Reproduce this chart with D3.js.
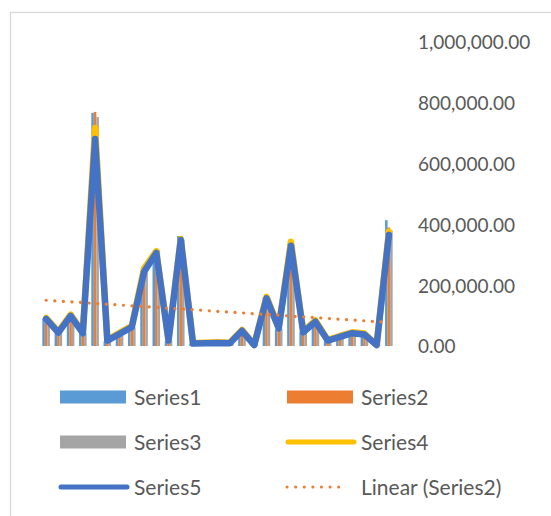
<!DOCTYPE html>
<html>
<head>
<meta charset="utf-8">
<script src="https://cdn.jsdelivr.net/npm/d3@7"></script>
<style>
  html, body { margin: 0; padding: 0; background: #fff; }
  svg { display: block; }
  text { font-family: Lato, "Open Sans", sans-serif; fill: #595959; }
</style>
</head>
<body>
<svg id="chart" width="551" height="516"></svg>
<script>
// ---- data (values in units) ----
const categories = d3.range(1, 30);
const series1 = [90000, 45000, 98000, 43000, 767000, 15000, 38000, 60000, 248000, 312000, 15000, 362000, 8000, 8000, 9000, 8000, 48000, 2000, 160000, 55000, 336000, 46000, 78000, 16000, 28000, 40000, 36000, 2000, 414000];
const series2 = [84000, 42000, 95000, 40000, 770000, 14000, 36000, 58000, 242000, 305000, 14000, 355000, 7000, 8000, 8000, 8000, 50000, 2000, 155000, 56000, 330000, 44000, 76000, 15000, 29000, 39000, 35000, 2000, 390000];
const series3 = [86000, 44000, 96000, 42000, 753000, 16000, 39000, 61000, 250000, 316000, 16000, 350000, 9000, 9000, 10000, 9000, 52000, 3000, 158000, 57000, 332000, 45000, 79000, 17000, 30000, 41000, 37000, 3000, 380000];
const series4 = [92000, 47000, 103000, 45000, 717000, 20000, 43000, 66000, 255000, 312000, 20000, 352000, 10000, 11000, 12000, 11000, 53000, 4000, 162000, 62000, 343000, 48000, 84000, 20000, 33000, 45000, 41000, 4000, 376000];
const series5 = [89000, 44000, 99000, 42000, 681000, 18000, 40000, 62000, 244000, 306000, 18000, 349000, 8000, 9000, 10000, 9000, 50000, 3000, 157000, 58000, 330000, 45000, 80000, 18000, 30000, 42000, 38000, 3000, 365000];
const yTicks = [0, 200000, 400000, 600000, 800000, 1000000];
const legendItems = [
  {name: "Series1", type: "bar", color: "#5B9BD5"},
  {name: "Series2", type: "bar", color: "#ED7D31"},
  {name: "Series3", type: "bar", color: "#A5A5A5"},
  {name: "Series4", type: "line", color: "#FFC000"},
  {name: "Series5", type: "line", color: "#4472C4"},
  {name: "Linear (Series2)", type: "dot", color: "#ED7D31"}
];

const svg = d3.select("#chart");
// chart border (extends beyond view on right/bottom)
svg.append("rect").attr("x", 10.5).attr("y", 12.5).attr("width", 600).attr("height", 600)
  .attr("fill", "#fff").attr("stroke", "#d9d9d9").attr("stroke-width", 1.3);

const plot = {left: 40, right: 395, top: 42, bottom: 346};
const x = d3.scaleBand().domain(categories).range([plot.left, plot.right]).paddingInner(0.38).paddingOuter(0.19);
const barKeys = ["s1", "s2", "s3"];
const xSub = d3.scaleBand().domain(barKeys).range([0, x.bandwidth()]);
const y = d3.scaleLinear().domain([0, 1000000]).range([plot.bottom, plot.top]);
const cx = c => x(c) + x.bandwidth() / 2;

// right axis labels
const axis = d3.axisRight(y).tickValues(yTicks).tickSize(0).tickPadding(0)
  .tickFormat(d3.format(",.2f"));
const ag = svg.append("g").attr("transform", `translate(418,0)`).call(axis);
ag.select(".domain").remove();
ag.selectAll("text").style("font-size", "19px").style("fill", "#595959")
  .style("font-family", "Lato, 'Open Sans', sans-serif").attr("dy", "0.36em");

// bars
const barSeries = [
  {key: "s1", data: series1, color: "#5B9BD5"},
  {key: "s2", data: series2, color: "#ED7D31"},
  {key: "s3", data: series3, color: "#A5A5A5"}
];
barSeries.forEach(s => {
  svg.append("g").selectAll("rect").data(categories).join("rect")
    .attr("x", (c) => x(c) + xSub(s.key))
    .attr("width", xSub.bandwidth())
    .attr("y", (c, i) => y(s.data[i]))
    .attr("height", (c, i) => y(0) - y(s.data[i]))
    .attr("fill", s.color);
});

// lines
const lineGen = d3.line().x((d, i) => cx(categories[i])).y(d => y(d));
svg.append("path").datum(series4).attr("d", lineGen).attr("fill", "none")
  .attr("stroke", "#FFC000").attr("stroke-width", 6.5).attr("stroke-linejoin", "round").attr("stroke-linecap", "round");
svg.append("path").datum(series5).attr("d", lineGen).attr("fill", "none")
  .attr("stroke", "#4472C4").attr("stroke-width", 6.5).attr("stroke-linejoin", "round").attr("stroke-linecap", "round");

// linear trendline of series2 (least squares)
const n = series2.length;
const xs = d3.range(n);
const mx = d3.mean(xs), my = d3.mean(series2);
const slope = d3.sum(xs, i => (i - mx) * (series2[i] - my)) / d3.sum(xs, i => (i - mx) ** 2);
const intercept = my - slope * mx;
svg.append("line")
  .attr("x1", cx(categories[0])).attr("y1", y(intercept))
  .attr("x2", cx(categories[n - 1])).attr("y2", y(intercept + slope * (n - 1)))
  .attr("stroke", "#ED7D31").attr("stroke-width", 3.2).attr("stroke-linecap", "round")
  .attr("stroke-dasharray", "0.1 8.5");

// legend
const cols = [60, 287];
const rows = [397, 442, 487];
const lg = svg.append("g");
legendItems.forEach((it, i) => {
  const gx = cols[i % 2], gy = rows[Math.floor(i / 2)];
  const g = lg.append("g").attr("transform", `translate(${gx},${gy})`);
  if (it.type === "bar") {
    g.append("rect").attr("x", 0).attr("y", -6.5).attr("width", 66).attr("height", 13).attr("fill", it.color);
  } else if (it.type === "line") {
    g.append("line").attr("x1", 1).attr("x2", 67).attr("y1", 0).attr("y2", 0)
      .attr("stroke", it.color).attr("stroke-width", 5).attr("stroke-linecap", "round");
  } else {
    g.append("line").attr("x1", 0).attr("x2", 60).attr("y1", 0).attr("y2", 0)
      .attr("stroke", it.color).attr("stroke-width", 3).attr("stroke-linecap", "round")
      .attr("stroke-dasharray", "0.1 8.5");
  }
  g.append("text").attr("x", 74).attr("y", 0).attr("dy", "0.36em")
    .style("font-size", "21px").text(it.name);
});
</script>
</body>
</html>
